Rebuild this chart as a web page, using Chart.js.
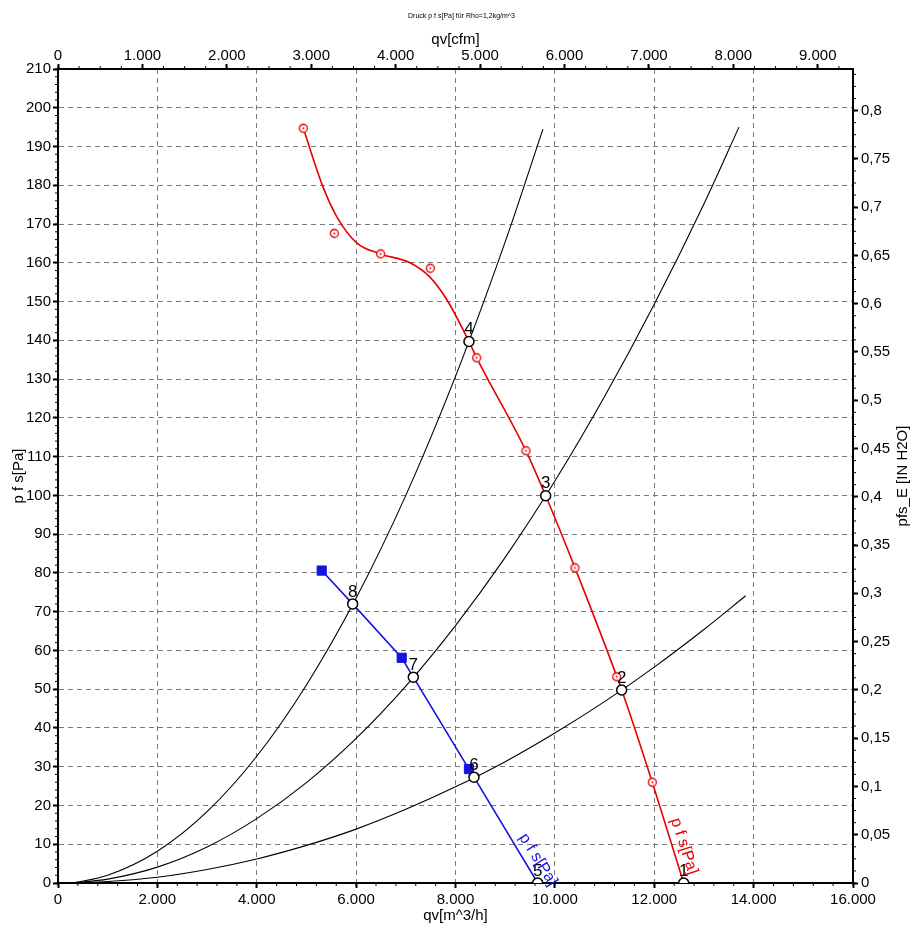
<!DOCTYPE html>
<html>
<head>
<meta charset="utf-8">
<title>Druck p f s[Pa]</title>
<script src="https://cdn.jsdelivr.net/npm/chart.js@4.4.1/dist/chart.umd.min.js"></script>
<style>
	html, body { margin: 0; padding: 0; background: #fff; }
	#wrap { width: 923px; height: 946px; }
</style>
</head>
<body>
<div id="wrap"><canvas id="fanChart"></canvas></div>
<script>
// measured points of the fan curve (red rings)
const measQ = [4937, 5561, 6494, 7493, 8426, 9418, 10405, 11243, 11960];
const measP = [194.7, 167.6, 162.3, 158.6, 135.5, 111.5, 81.3, 53.2, 26.0];

// fitted fan curve (red line)
const fitQ = [4937, 5333, 5615, 6017, 6494, 7084, 7486, 7829, 8271, 8426, 9418, 9815, 10405, 11344, 11960, 12592];
const fitP = [194.7, 179.6, 171.8, 165.1, 162.3, 160.0, 156.3, 150.4, 139.7, 135.5, 111.5, 99.9, 81.3, 49.8, 26.0, 0];

// second fan curve (blue)
const blueQ = [5307, 5930, 6917, 7151, 8271, 8372, 9654];
const blueP = [80.6, 72.0, 58.1, 53.1, 29.4, 27.3, 0];
const squareQ = [5307, 6917, 8271];
const squareP = [80.6, 58.1, 29.4];

// operating points 1..8
const opNames = ["1", "2", "3", "4", "5", "6", "7", "8"];
const opQ = [12592, 11344, 9815, 8271, 9654, 8372, 7151, 5930];
const opP = [0, 49.8, 99.9, 139.7, 0, 27.3, 53.1, 72.0];

// system curves (black)
const sysQ_A = [300, 1000, 2000, 3000, 4000, 5000, 6000, 7000, 8000, 9000, 9760];
const sysP_A = [0, 2.0, 8.2, 18.4, 32.7, 51.1, 73.5, 100.0, 130.7, 165.4, 194.5];
const sysQ_B = [300, 1000, 2000, 3000, 4000, 5000, 6000, 7000, 8000, 9000, 10000, 11000, 12000, 13000, 13705];
const sysP_B = [0, 1.0, 4.1, 9.3, 16.6, 25.9, 37.3, 50.8, 66.4, 84.0, 103.7, 125.5, 149.3, 175.2, 195.0];
const sysQ_C = [300, 1000, 2000, 3000, 4000, 5000, 6000, 7000, 8000, 9000, 10000, 11000, 12000, 13000, 13840];
const sysP_C = [0, 0.4, 1.5, 3.5, 6.2, 9.7, 13.9, 19.0, 24.8, 31.3, 38.7, 46.8, 55.7, 65.4, 74.1];

// tick values of the secondary axes
const cfmTicks = [0, 1000, 2000, 3000, 4000, 5000, 6000, 7000, 8000, 9000];
const inchTicks = [0, 0.05, 0.1, 0.15, 0.2, 0.25, 0.3, 0.35, 0.4, 0.45, 0.5, 0.55, 0.6, 0.65, 0.7, 0.75, 0.8];

// axis ranges and unit factors
const Q_MAX = 16000;
const P_MAX = 210;
const M3H_PER_CFM = 1.699;
const PA_PER_INH2O = 249.089;

const chartTitle = "Druck p f s[Pa] für Rho=1,2kg/m^3";
const rightTitle = "pfs_E [IN H2O]";

const RED = "#e80000";
const BLUE = "#1414e0";

function pts(xs, ys) {
	return xs.map((x, i) => ({ x: x, y: ys[i] }));
}

// thousands with a dot: 12000 -> 12.000
function fmtThousands(v) {
	return String(Math.round(v)).replace(/\B(?=(\d{3})+(?!\d))/g, ".");
}

function fmtComma(v) {
	return String(Number(v.toFixed(3))).replace(".", ",");
}

// small ring with a dot for the measured points
function makeRing() {
	const c = document.createElement("canvas");
	c.width = 11;
	c.height = 11;
	const g = c.getContext("2d");
	g.fillStyle = "#fff";
	g.strokeStyle = RED;
	g.lineWidth = 1.3;
	g.beginPath();
	g.arc(5.5, 5.5, 4, 0, Math.PI * 2);
	g.fill();
	g.stroke();
	g.fillStyle = RED;
	g.beginPath();
	g.arc(5.5, 5.5, 1, 0, Math.PI * 2);
	g.fill();
	return c;
}

/*######################################*
||            Small plugins           ||
*######################################*/

const minorTicks = {
	id: "minorTicks",
	afterDraw(chart, args, opts) {
		const ctx = chart.ctx;
		ctx.save();
		ctx.strokeStyle = "#000";
		ctx.lineWidth = 1;
		Object.keys(opts.steps).forEach((id) => {
			const sc = chart.scales[id];
			const step = opts.steps[id];
			const n = Math.floor(sc.max / step + 1e-6);
			for (let i = 0; i <= n; i++) {
				const p = sc.getPixelForValue(i * step);
				ctx.beginPath();
				if (sc.position === "left") {
					ctx.moveTo(sc.right, p);
					ctx.lineTo(sc.right - opts.length, p);
				} else if (sc.position === "right") {
					ctx.moveTo(sc.left, p);
					ctx.lineTo(sc.left + opts.length, p);
				} else if (sc.position === "bottom") {
					ctx.moveTo(p, sc.top);
					ctx.lineTo(p, sc.top + opts.length);
				} else {
					ctx.moveTo(p, sc.bottom);
					ctx.lineTo(p, sc.bottom - opts.length);
				}
				ctx.stroke();
			}
		});
		ctx.restore();
	},
};

const pointNames = {
	id: "pointNames",
	afterDatasetsDraw(chart, args, opts) {
		const ctx = chart.ctx;
		const meta = chart.getDatasetMeta(0);
		ctx.save();
		ctx.font = "17px 'Liberation Sans', Arial, sans-serif";
		ctx.fillStyle = "#000";
		ctx.textAlign = "center";
		ctx.textBaseline = "middle";
		meta.data.forEach((el, i) => {
			ctx.fillText(opNames[i], el.x, el.y - opts.lift);
		});

		// rotated curve names
		opts.tags.forEach((t) => {
			const x = chart.scales.x.getPixelForValue(t.q);
			const y = chart.scales.y.getPixelForValue(t.p);
			ctx.save();
			ctx.translate(x, y);
			ctx.rotate((t.angle * Math.PI) / 180);
			ctx.font = "16px 'Liberation Sans', Arial, sans-serif";
			ctx.fillStyle = t.color;
			ctx.fillText(t.text, 0, 0);
			ctx.restore();
		});
		ctx.restore();
	},
};

const sideTitle = {
	id: "sideTitle",
	afterDraw(chart, args, opts) {
		const ctx = chart.ctx;
		const area = chart.chartArea;
		ctx.save();
		ctx.translate(chart.width - opts.offset, (area.top + area.bottom) / 2);
		ctx.rotate(-Math.PI / 2);
		ctx.font = "15px 'Liberation Sans', Arial, sans-serif";
		ctx.fillStyle = "#000";
		ctx.textAlign = "center";
		ctx.textBaseline = "middle";
		ctx.fillText(opts.text, 0, 0);
		ctx.restore();
	},
};

/*######################################*
||             Create chart           ||
*######################################*/

Chart.defaults.font.family = "'Liberation Sans', Arial, sans-serif";
Chart.defaults.color = "#000";

const gridDash = { color: "#000", width: 2, dash: [5, 4] };

new Chart("fanChart", {
	type: "line",
	data: {
		datasets: [
			{
				data: pts(opQ, opP),
				showLine: false,
				pointStyle: "circle",
				pointRadius: 5,
				pointBorderWidth: 1.5,
				pointBorderColor: "#000",
				pointBackgroundColor: "#fff",
			},
			{
				data: pts(measQ, measP),
				showLine: false,
				pointStyle: makeRing(),
				pointRadius: 5,
			},
			{
				data: pts(squareQ, squareP),
				showLine: false,
				pointStyle: "rect",
				pointRadius: 6.5,
				pointBorderWidth: 1,
				pointBorderColor: BLUE,
				pointBackgroundColor: BLUE,
			},
			{
				data: pts(fitQ, fitP),
				borderColor: RED,
				borderWidth: 1.6,
				pointRadius: 0,
				cubicInterpolationMode: "monotone",
			},
			{
				data: pts(blueQ, blueP),
				borderColor: BLUE,
				borderWidth: 1.6,
				pointRadius: 0,
				tension: 0,
			},
			{
				data: pts(sysQ_A, sysP_A),
				borderColor: "#000",
				borderWidth: 1.1,
				pointRadius: 0,
				cubicInterpolationMode: "monotone",
			},
			{
				data: pts(sysQ_B, sysP_B),
				borderColor: "#000",
				borderWidth: 1.1,
				pointRadius: 0,
				cubicInterpolationMode: "monotone",
			},
			{
				data: pts(sysQ_C, sysP_C),
				borderColor: "#000",
				borderWidth: 1.1,
				pointRadius: 0,
				cubicInterpolationMode: "monotone",
			},
		],
	},
	options: {
		animation: false,
		events: [],
		maintainAspectRatio: false,
		layout: { padding: 0 },
		plugins: {
			legend: { display: false },
			tooltip: { enabled: false },
			title: {
				display: true,
				text: chartTitle,
				font: { size: 7, weight: "normal" },
				padding: { top: 12, bottom: 2 },
			},
			minorTicks: {
				length: 3,
				steps: { x: 400, y: 2, x2: 250, y2: 0.0125 },
			},
			pointNames: {
				lift: 12,
				tags: [
					{ text: "p f s[Pa]", color: BLUE, q: 9660, p: 6, angle: 58 },
					{ text: "p f s[Pa]", color: RED, q: 12600, p: 9.5, angle: 72 },
				],
			},
			sideTitle: { text: rightTitle, offset: 20 },
		},
		scales: {
			x: {
				type: "linear",
				position: "bottom",
				min: 0,
				max: Q_MAX,
				afterFit: (s) => { s.height = 63; },
				ticks: {
					stepSize: 2000,
					autoSkip: false,
					maxRotation: 0,
					padding: 3,
					font: { size: 15 },
					callback: (v) => fmtThousands(v),
				},
				grid: {
					color: "#7a7a7a",
					lineWidth: 1,
					tickColor: "#000",
					tickWidth: 2,
					tickLength: 5,
				},
				border: gridDash,
				title: {
					display: true,
					text: "qv[m^3/h]",
					font: { size: 15 },
					padding: { top: 0, bottom: 21 },
				},
			},
			x2: {
				type: "linear",
				position: "top",
				min: 0,
				max: Q_MAX / M3H_PER_CFM,
				afterFit: (s) => { s.height = 46.6; },
				afterBuildTicks: (s) => {
					s.ticks = cfmTicks.map((v) => ({ value: v }));
				},
				ticks: {
					autoSkip: false,
					maxRotation: 0,
					padding: -1,
					font: { size: 15 },
					callback: (v) => fmtThousands(v),
				},
				grid: {
					drawOnChartArea: false,
					tickColor: "#000",
					tickWidth: 2,
					tickLength: 5,
				},
				border: { color: "#000", width: 2 },
				title: {
					display: true,
					text: "qv[cfm]",
					font: { size: 15 },
					padding: { top: 8.6, bottom: 0 },
				},
			},
			y: {
				type: "linear",
				position: "left",
				min: 0,
				max: P_MAX,
				afterFit: (s) => { s.width = 58; },
				ticks: {
					stepSize: 10,
					autoSkip: false,
					padding: 2,
					font: { size: 15 },
				},
				grid: {
					color: "#7a7a7a",
					lineWidth: 1,
					tickColor: "#000",
					tickWidth: 2,
					tickLength: 5,
				},
				border: gridDash,
				title: {
					display: true,
					text: "p f s[Pa]",
					font: { size: 15 },
					padding: { top: 10, bottom: 0 },
				},
			},
			y2: {
				type: "linear",
				position: "right",
				min: 0,
				max: P_MAX / PA_PER_INH2O,
				afterFit: (s) => { s.width = 70; },
				afterBuildTicks: (s) => {
					s.ticks = inchTicks.map((v) => ({ value: v }));
				},
				ticks: {
					autoSkip: false,
					padding: 3,
					font: { size: 15 },
					callback: (v) => fmtComma(v),
				},
				grid: {
					drawOnChartArea: false,
					tickColor: "#000",
					tickWidth: 2,
					tickLength: 5,
				},
				border: { color: "#000", width: 2 },
			},
		},
	},
	plugins: [minorTicks, pointNames, sideTitle],
});
</script>
</body>
</html>
